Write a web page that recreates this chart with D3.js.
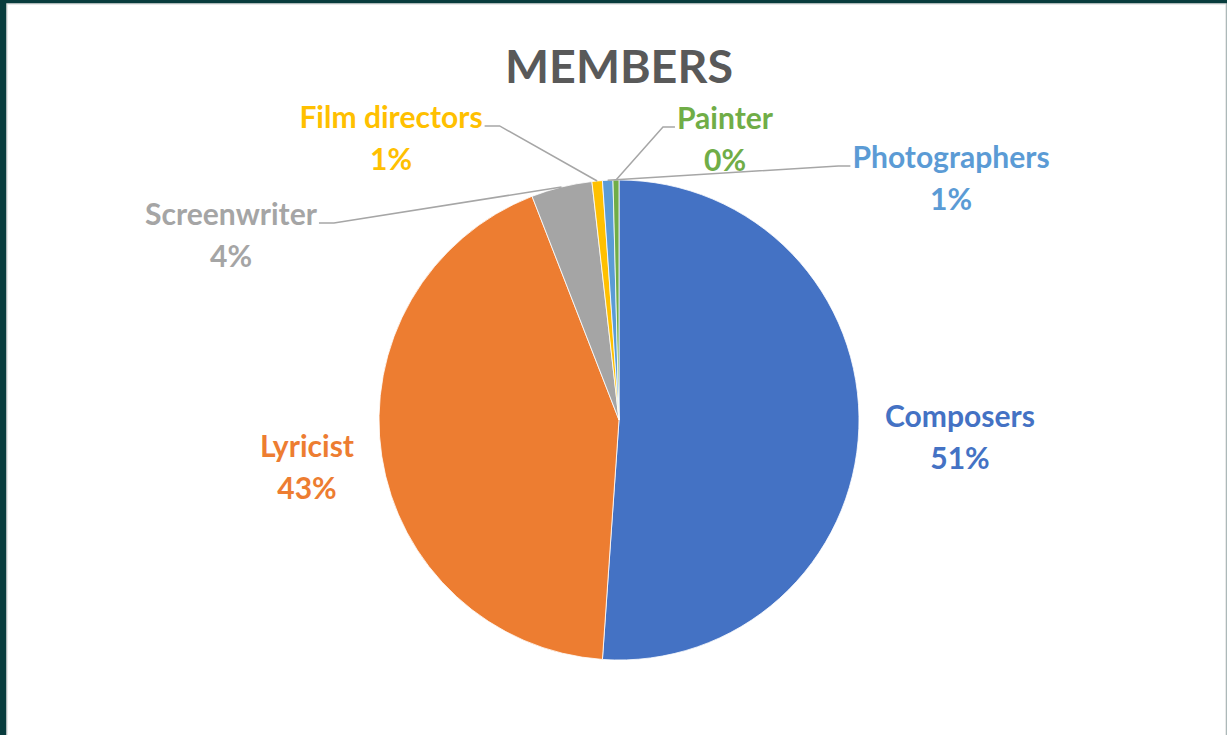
<!DOCTYPE html>
<html>
<head>
<meta charset="utf-8">
<script src="https://cdn.jsdelivr.net/npm/d3@7"></script>
<style>
  html, body { margin: 0; padding: 0; background: #083c3d; overflow: hidden; }
  svg { display: block; }
</style>
</head>
<body>
<svg id="chart" width="1227" height="735"></svg>
<script>
// ---- data ----
const categories = ["Composers", "Lyricist", "Screenwriter", "Film directors", "Photographers", "Painter"];
const values = [51.1, 43.0, 4.1, 0.7, 0.7, 0.4];
const colors = ["#4472C4", "#ED7D31", "#A5A5A5", "#FFC000", "#5B9BD5", "#70AD47"];
const title = "MEMBERS";

// ---- layout (label centres relative to pie centre, and which side the leader attaches) ----
const labelLayout = {
  "Composers":      { dx: 341,  dy: 16,   leader: null },
  "Lyricist":       { dx: -312, dy: 46,   leader: null },
  "Screenwriter":   { dx: -388, dy: -186, leader: "right" },
  "Film directors": { dx: -228, dy: -283, leader: "right" },
  "Painter":        { dx: 106,  dy: -282, leader: "left" },
  "Photographers":  { dx: 332,  dy: -243, leader: "left" }
};

const W = 1227, H = 735;
const svg = d3.select("#chart");
const font = "Lato, 'Open Sans', sans-serif";

// white card
svg.append("rect").attr("x", 7).attr("y", 4).attr("width", W - 8).attr("height", H)
  .attr("fill", "#ffffff").attr("stroke", "#e2e2e2").attr("stroke-width", 1.5);

// title
const t = svg.append("text").text(title)
  .attr("x", 619).attr("y", 83)
  .attr("text-anchor", "middle")
  .attr("font-family", font).attr("font-weight", 700)
  .attr("font-size", 50).attr("fill", "#595959");
{
  const w = t.node().getComputedTextLength();
  t.attr("font-size", 50 * 228 / w);
}

const cx = 619, cy = 420, R = 240;
const g = svg.append("g").attr("transform", `translate(${cx},${cy})`);

const data = categories.map((c, i) => ({ name: c, value: values[i], color: colors[i] }));
const total = d3.sum(values);
const pie = d3.pie().sort(null).value(d => d.value);
const arc = d3.arc().innerRadius(0).outerRadius(R);
const arcs = pie(data);

g.selectAll("path.slice").data(arcs).join("path")
  .attr("class", "slice")
  .attr("d", arc)
  .attr("fill", d => d.data.color)
  .attr("stroke", "#ffffff").attr("stroke-width", 0.8);

// label font size: fit "Composers" to ~150px
const probe = svg.append("text").text("Composers")
  .attr("font-family", font).attr("font-weight", 700).attr("font-size", 26);
const labelSize = 26 * 150 / probe.node().getComputedTextLength();
probe.remove();

const pct = d3.format(".0%");
const lineGap = 42;
const leaders = svg.append("g");
const labels = svg.append("g");

arcs.forEach(a => {
  const L = labelLayout[a.data.name];
  const x = cx + L.dx, y = cy + L.dy;
  const txt = labels.append("text")
    .attr("text-anchor", "middle")
    .attr("font-family", font).attr("font-weight", 700)
    .attr("font-size", labelSize)
    .attr("fill", a.data.color);
  const l1 = txt.append("tspan").attr("x", x).attr("y", y - lineGap / 2)
    .attr("dominant-baseline", "central").text(a.data.name);
  txt.append("tspan").attr("x", x).attr("y", y + lineGap / 2)
    .attr("dominant-baseline", "central").text(pct(a.data.value / total));

  if (L.leader) {
    const w = l1.node().getComputedTextLength();
    const by = y - lineGap / 2 + labelSize * 0.33;
    const mid = (a.startAngle + a.endAngle) / 2;
    const px = cx + R * Math.sin(mid), py = cy - R * Math.cos(mid);
    let sx, hx;
    if (L.leader === "right") { sx = x + w / 2 + 2; hx = sx + 15; }
    else { sx = x - w / 2 - 2; hx = sx - 12; }
    leaders.append("path")
      .attr("d", d3.line()([[sx, by], [hx, by], [px, py]]))
      .attr("fill", "none").attr("stroke", "#a6a6a6").attr("stroke-width", 1.5);
  }
});
</script>
</body>
</html>
